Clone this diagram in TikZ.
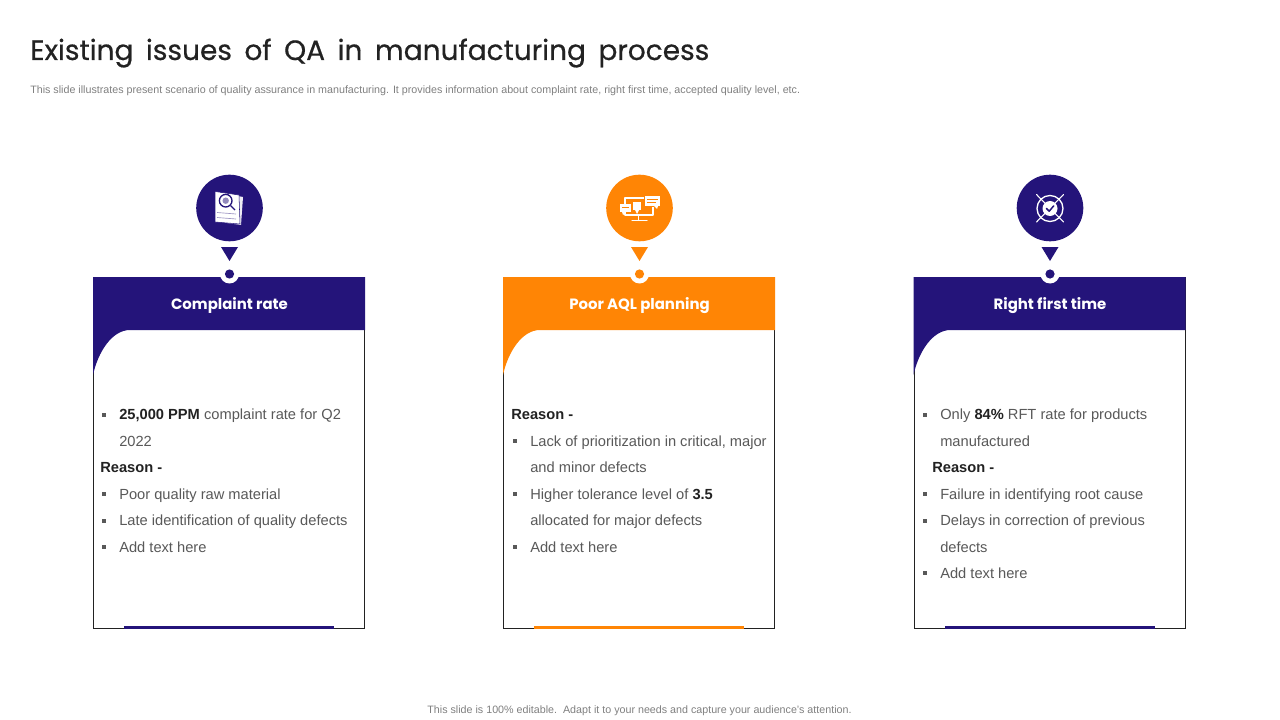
\documentclass[tikz,border=0pt]{standalone}
\usepackage{fontspec}
\setmainfont{Liberation Sans}
\newfontfamily\headfont{Poppins}
\newfontfamily\titlefont[FakeBold=0.5]{Poppins}
\definecolor{navy}{HTML}{24147A}
\definecolor{orng}{HTML}{FF8505}
\definecolor{bodygray}{HTML}{595959}
\definecolor{ink}{HTML}{222222}
\definecolor{note}{HTML}{808080}
\tikzset{
  x=0.75pt,y=-0.75pt,
  line/.style={anchor=base west,inner sep=0pt,font=\fontsize{11pt}{12pt}\selectfont,text=bodygray},
  strong/.style={line,text=ink},
  head/.style={anchor=center,inner sep=0pt,text=white,font=\headfont\fontsize{11.2pt}{14pt}\selectfont\bfseries},
  small/.style={inner sep=0pt,text=note,font=\fontsize{8.03pt}{9pt}\selectfont},
  blt/.style={fill=bodygray,draw=none,minimum size=3pt,inner sep=0pt,anchor=center},
  wl/.style={draw=white,line width=0.8pt,line cap=round,line join=round},
}
% #1 x offset, #2 colour, #3 title, #4 name
\newcommand{\cardframe}[4]{%
  \begin{scope}[xshift=#1*0.75pt]
    \draw[ink,line width=0.75pt,fill=white] (93.5,277) rectangle (364.5,628.5);
    \fill[#2] (93,277) -- (365,277) -- (365,330) -- (130,330) .. controls (112,330) and (98,352) .. (93,375) -- cycle;
    \fill[#2] (124,626) rectangle (334,629);
    \fill[white] (229.5,274) circle (9.5);
    \fill[#2] (229.5,274) circle (4.6);
    \fill[#2] (221,247) -- (238,247) -- (229.5,261) -- cycle;
    \fill[#2] (229.5,208) circle (33.3);
    \node[head] (#4) at (229.5,305.5) {#3};
  \end{scope}}
\begin{document}
\begin{tikzpicture}
\useasboundingbox (0,0) rectangle (1280,720);
\fill[white] (0,0) rectangle (1280,720);
\node[anchor=base west,inner sep=0pt,text=ink,font=\titlefont\fontsize{21pt}{26pt}\selectfont] (title) at (30,60) {Existing\hspace{0.18em} issues\hspace{0.18em} of\hspace{0.18em} QA\hspace{0.18em} in\hspace{0.18em} manufacturing\hspace{0.18em} process};
\node[small,anchor=base west] (sub) at (30,94) {This slide illustrates present scenario of quality assurance in manufacturing. It provides information about complaint rate, right first time, accepted quality level, etc.};
\node[small,anchor=base] (foot) at (639.5,713) {This slide is 100\% editable.\ \ Adapt it to your needs and capture your audience's attention.};

\cardframe{0}{navy}{Complaint rate}{h1}
\cardframe{410}{orng}{Poor AQL planning}{h2}
\cardframe{820.5}{navy}{Right first time}{h3}

% card 1 text
\node[blt] (b11) at (103.5,414.5) {};
\node[line] (t11) at (119,419.5) {\textcolor{ink}{\textbf{25,000 PPM}} complaint rate for Q2};
\node[line] (t12) at (119,446) {2022};
\node[strong] (t13) at (100,472.5) {\textbf{Reason -}};
\node[blt] (b14) at (103.5,494) {};
\node[line] (t14) at (119,499) {Poor quality raw material};
\node[blt] (b15) at (103.5,520.5) {};
\node[line] (t15) at (119,525.5) {Late identification of quality defects};
\node[blt] (b16) at (103.5,547) {};
\node[line] (t16) at (119,552) {Add text here};

% card 2 text
\node[strong] (t21) at (511,419.5) {\textbf{Reason -}};
\node[blt] (b22) at (514.5,441) {};
\node[line] (t22) at (530,446) {Lack of prioritization in critical, major};
\node[line] (t23) at (530,472.5) {and minor defects};
\node[blt] (b24) at (514.5,494) {};
\node[line] (t24) at (530,499) {Higher tolerance level of \textcolor{ink}{\textbf{3.5}}};
\node[line] (t25) at (530,525.5) {allocated for major defects};
\node[blt] (b26) at (514.5,547) {};
\node[line] (t26) at (530,552) {Add text here};

% card 3 text
\node[blt] (b31) at (924.5,414.5) {};
\node[line] (t31) at (940,419.5) {Only \textcolor{ink}{\textbf{84\%}} RFT rate for products};
\node[line] (t32) at (940,446) {manufactured};
\node[strong] (t33) at (932,472.5) {\textbf{Reason -}};
\node[blt] (b34) at (924.5,494) {};
\node[line] (t34) at (940,499) {Failure in identifying root cause};
\node[blt] (b35) at (924.5,520.5) {};
\node[line] (t35) at (940,525.5) {Delays in correction of previous};
\node[line] (t36) at (940,552) {defects};
\node[blt] (b37) at (924.5,573) {};
\node[line] (t37) at (940,578) {Add text here};

% icon 1: papers with magnifier
\fill[white!92!navy] (222,193) -- (243,197) -- (241,225) -- (220,222) -- cycle;
\draw[navy,line width=0.4pt,fill=white] (215,191.5) -- (239,195) -- (240,224) -- (215,222) -- cycle;
\draw[navy,line width=1pt] (225.7,200.7) circle (6.3);
\fill[navy!50] (225.7,200.7) circle (3.2);
\draw[navy,line width=1pt] (230.5,205.5) -- (235,210);
\draw[navy!45,line width=0.5pt] (217,212.5) -- (236,214);
\draw[navy!45,line width=0.5pt] (217,217.5) -- (236,219);

% icon 2: monitor and bubbles
\draw[wl] (625,198) rectangle (653,215);
\draw[wl] (638.5,215) -- (638.5,220);
\draw[wl] (632,220.5) -- (647,220.5);
\fill[white] (620,204) rectangle (631,212);
\fill[white] (622,212) -- (626,212) -- (623,215) -- cycle;
\draw[orng,line width=0.5pt] (622,207) -- (629,207);
\fill[white] (633,202) rectangle (641,210);
\fill[white] (635,210) -- (639,210) -- (637,214) -- cycle;
\fill[orng] (644,195.5) rectangle (661,207);
\fill[white] (645,196) rectangle (660,206);
\fill[white] (654,206) -- (658,206) -- (657,209) -- cycle;
\draw[orng,line width=0.5pt] (647,199.5) -- (658,199.5);
\draw[orng,line width=0.5pt] (647,202.5) -- (656,202.5);

% icon 3: target with check
\draw[wl] (1036.5,194.5) -- (1063.5,222);
\draw[wl] (1063.5,194.5) -- (1036.5,222);
\draw[white,line width=1pt] (1050,208.5) circle (13);
\fill[white] (1050,208.5) circle (7.5);
\draw[navy,line width=1.1pt,line cap=round,line join=round] (1046.5,208.5) -- (1049.2,211.2) -- (1053.7,205.8);
\end{tikzpicture}
\end{document}
